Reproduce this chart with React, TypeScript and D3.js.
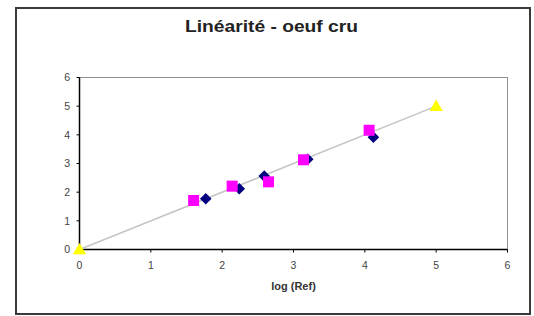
import React from "react";
import * as d3 from "d3";

const xTicks = [0, 1, 2, 3, 4, 5, 6];
const yTicks = [0, 1, 2, 3, 4, 5, 6];

const diamondX = [1.77, 2.24, 2.59, 3.2, 4.12];
const diamondY = [1.77, 2.12, 2.56, 3.15, 3.92];

const squareX = [1.6, 2.14, 2.65, 3.14, 4.06];
const squareY = [1.71, 2.21, 2.36, 3.13, 4.16];

const lineX = [0, 5];
const lineY = [0, 5];

const title = "Linéarité - oeuf cru";
const xTitle = "log (Ref)";

export default function App() {
  const W = 534, H = 316;
  const left = 79.5, right = 507.5, top = 77.5, bottom = 249.5;
  const x = d3.scaleLinear().domain([0, 6]).range([left, right]);
  const y = d3.scaleLinear().domain([0, 6]).range([bottom, top]);
  const line = d3.line<number>().x((d, i) => x(lineX[i])).y((d, i) => y(lineY[i]));
  const tri = d3.symbol().type(d3.symbolTriangle).size(75)()!;
  const font = "Liberation Sans, Arial, sans-serif";
  const dr = 5.8;
  return (
    <svg width={W} height={H} style={{ position: "absolute", left: 0, top: 0, background: "#fff" }} fontFamily={font}>
      <rect x={16} y={8} width={514} height={306} fill="#fff" stroke="#3a3a3a" strokeWidth={2} />
      <text x={271.5} y={32} textAnchor="middle" fontSize={16.5} fontWeight="bold" fill="#222"
        textLength={173} lengthAdjust="spacingAndGlyphs">{title}</text>
      <rect x={left} y={top} width={right - left} height={bottom - top} fill="#fff" stroke="#909090" strokeWidth={1} />
      <line x1={left} x2={right} y1={bottom} y2={bottom} stroke="#000" strokeWidth={1.5} />
      <line x1={left} x2={left} y1={top} y2={bottom} stroke="#000" strokeWidth={1.5} />
      {xTicks.map((t) => (
        <g key={"x" + t}>
          <line x1={x(t)} x2={x(t)} y1={bottom} y2={bottom + 3} stroke="#000" />
          <text x={x(t)} y={269} textAnchor="middle" fontSize={10.5} fill="#444">{t}</text>
        </g>
      ))}
      {yTicks.map((t) => (
        <g key={"y" + t}>
          <line x1={left - 3} x2={left} y1={y(t)} y2={y(t)} stroke="#000" />
          <text x={70} y={y(t) + 3.8} textAnchor="end" fontSize={10.5} fill="#444">{t}</text>
        </g>
      ))}
      <text x={(left + right) / 2} y={290} textAnchor="middle" fontSize={11} fontWeight="bold" fill="#333">{xTitle}</text>
      <path d={line(lineX) || ""} fill="none" stroke="#c4c4c4" strokeWidth={1.5} />
      {diamondX.map((v, i) => (
        <path key={"d" + i} d={`M${x(v)},${y(diamondY[i]) - dr}L${x(v) + dr},${y(diamondY[i])}L${x(v)},${y(diamondY[i]) + dr}L${x(v) - dr},${y(diamondY[i])}Z`}
          fill="#000080" />
      ))}
      {squareX.map((v, i) => (
        <rect key={"s" + i} x={x(v) - 5.5} y={y(squareY[i]) - 5.5} width={11} height={11} fill="#ff00ff" />
      ))}
      {lineX.map((v, i) => (
        <path key={"t" + i} d={tri} transform={`translate(${x(v)},${y(lineY[i]) + 1})`} fill="#ffff00" />
      ))}
    </svg>
  );
}
